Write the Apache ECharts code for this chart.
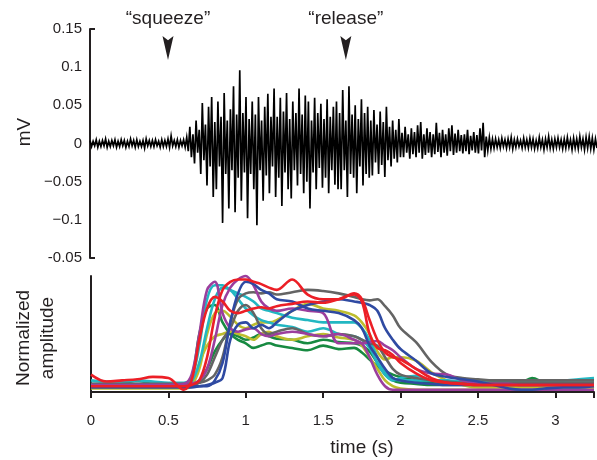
<!DOCTYPE html>
<html><head><meta charset="utf-8">
<script src="https://cdn.jsdelivr.net/npm/echarts/dist/echarts.min.js"></script>
<style>html,body{margin:0;padding:0;background:#fff}#c{width:597px;height:460px}</style>
</head><body><div id="c"></div>
<script>
// ---------- EMG trace (top panel), per 0.02 s bin: upper and lower excursion in microvolts ----------
const emgBin = 0.02;
const emgHighUv = [
  4,3,5,3,4,6,3,4,5,3,
  5,4,3,6,4,5,3,4,6,4,
  4,5,3,5,4,6,10,4,5,4,
  5,8,22,12,30,18,53,25,48,61,
  28,55,35,66,30,45,75,38,96,40,
  61,32,55,38,61,30,48,65,35,72,
  35,60,42,66,32,55,40,72,38,63,
  55,30,60,40,52,32,58,35,48,55,
  40,70,30,75,38,50,32,58,40,48,
  30,44,25,42,28,48,22,30,18,32,
  14,22,12,20,15,24,28,12,20,15,
  12,27,14,18,12,20,24,13,18,11,
  12,18,10,15,11,20,27,9,8,6,
  6,5,7,5,6,8,5,6,4,7,
  5,7,6,4,8,5,6,9,5,6,
  7,5,6,8,5,7,6,9,6,8,
  9,7,6
];
const emgLowUv = [
  -4,-3,-5,-4,-3,-5,-4,-3,-5,-4,
  -3,-5,-4,-3,-5,-4,-4,-6,-3,-4,
  -4,-3,-5,-4,-4,-5,-3,-4,-5,-3,
  -5,-10,-18,-26,-12,-40,-22,-55,-30,-70,
  -60,-30,-104,-40,-85,-35,-90,-45,-75,-38,
  -98,-40,-60,-107,-35,-75,-42,-65,-30,-70,
  -45,-82,-38,-60,-72,-35,-55,-40,-65,-50,
  -85,-38,-60,-32,-58,-45,-65,-35,-54,-60,
  -60,-35,-70,-40,-45,-65,-30,-55,-40,-45,
  -42,-25,-40,-28,-44,-22,-30,-20,-25,-18,
  -18,-12,-20,-14,-18,-12,-20,-15,-12,-18,
  -14,-11,-18,-12,-16,-10,-15,-12,-10,-13,
  -10,-14,-9,-12,-13,-9,-18,-9,-7,-6,
  -5,-6,-4,-6,-5,-7,-5,-4,-6,-5,
  -6,-5,-7,-6,-5,-8,-5,-6,-7,-5,
  -5,-7,-6,-5,-8,-6,-7,-5,-8,-6,
  -7,-8,-6
];
const emgTickLabels = ['-0.05','\u22120.1','\u22120.05','0','0.05','0.1','0.15'];
const annotTimes = [0.5, 1.64];
const annotLevel = 0.125;
const annotLabels = ['\u201csqueeze\u201d','\u201crelease\u201d'];

// ---------- Normalized amplitude envelopes (bottom panel) ----------
const timeTickLabels = ['0','0.5','1','1.5','2','2.5','3'];
const envTimes = [0,0.1,0.2,0.3,0.4,0.5,0.6, 0.65,0.7,0.75,0.8,0.85,0.9,0.95, 1.0,1.05,1.1,1.15,1.2,1.3,1.4,
  1.5,1.6,1.7,1.75,1.8,1.85,1.9, 1.95,2.0,2.1,2.2,2.3,2.4,2.5, 2.6,2.7,2.78,2.85,2.93,3.05,3.15,3.25];
const envGreen1 = [.05,.06,.07,.1,.07,.07,.07, .12,.5,.72,.75,.6,.5,.45, .42,.38,.4,.42,.4,.38,.36,
  .4,.37,.38,.34,.28,.22,.18, .15,.13,.1,.08,.07,.07,.07, .07,.07,.08,.12,.08,.06,.06,.06];
const envGreen2 = [.05,.05,.05,.05,.05,.05,.05, .06,.1,.2,.35,.45,.5,.48, .45,.47,.5,.48,.46,.45,.42,
  .45,.43,.42,.4,.35,.25,.15, .1,.08,.07,.06,.06,.06,.06, .06,.06,.06,.06,.06,.06,.06,.06];
const envYellow1 = [.04,.04,.04,.04,.04,.04,.04, .06,.2,.5,.68,.7,.65,.58, .55,.58,.6,.6,.62,.7,.76,
  .72,.7,.66,.6,.5,.35,.28, .3,.3,.27,.17,.1,.06,.04, .04,.04,.04,.04,.04,.04,.04,.04];
const envYellow2 = [.03,.03,.03,.03,.03,.03,.03, .05,.25,.4,.48,.5,.52,.5, .48,.45,.5,.52,.48,.45,.48,
  .5,.47,.45,.4,.3,.2,.1, .05,.03,.02,.02,.02,.02,.02, .02,.02,.02,.02,.02,.02,.02,.02];
const envCyan1 = [.1,.09,.09,.1,.09,.08,.08, .12,.4,.8,.92,.92,.88,.85, .82,.78,.72,.7,.68,.64,.62,
  .6,.6,.6,.55,.45,.3,.18, .12,.1,.1,.1,.1,.09,.1, .09,.09,.09,.1,.1,.1,.11,.12];
const envCyan2 = [.07,.07,.07,.07,.07,.07,.07, .09,.25,.55,.8,.9,.88,.8, .72,.66,.62,.6,.58,.56,.52,
  .55,.5,.48,.45,.38,.25,.15, .1,.12,.14,.1,.09,.09,.09, .09,.1,.1,.1,.1,.1,.1,.1];
const envGray1 = [.07,.07,.07,.07,.07,.07,.07, .07,.08,.1,.15,.3,.6,.8, .85,.86,.85,.86,.84,.86,.88,
  .87,.85,.82,.8,.79,.8,.74, .66,.55,.43,.26,.15,.12,.11, .1,.1,.1,.1,.1,.1,.1,.1];
const envGray2 = [.06,.06,.06,.06,.06,.06,.06, .06,.08,.15,.3,.45,.55,.7, .75,.68,.55,.5,.52,.55,.5,
  .48,.5,.48,.45,.42,.4,.3, .2,.15,.12,.1,.09,.08,.08, .08,.08,.08,.08,.08,.08,.08,.08];
const envPurple1 = [.05,.05,.05,.06,.06,.06,.07, .15,.5,.88,.95,.68,.55,.52, .54,.55,.5,.48,.5,.52,.5,
  .48,.5,.45,.42,.3,.15,.05, .02,.02,.02,.02,.02,.02,.02, .02,.02,.02,.02,.02,.02,.02,.02];
const envPurple2 = [.06,.06,.06,.06,.06,.06,.06, .07,.1,.2,.45,.75,.9,.97, 1.0,.92,.78,.72,.7,.72,.7,
  .68,.42,.42,.42,.43,.44,.4, .36,.3,.2,.16,.15,.1,.08, .07,.07,.06,.06,.06,.06,.06,.06];
const envBlue1 = [.04,.04,.04,.04,.04,.04,.04, .04,.05,.06,.08,.12,.45,.58, .6,.55,.58,.55,.6,.7,.75,
  .78,.8,.78,.77,.75,.7,.55, .45,.37,.27,.16,.13,.11,.09, .06,.03,.02,.02,.03,.04,.04,.05];
const envBlue2 = [.05,.05,.05,.05,.05,.05,.05, .05,.05,.05,.1,.25,.6,.85, .95,.93,.88,.85,.8,.78,.72,
  .7,.68,.62,.55,.4,.3,.2, .12,.1,.08,.07,.06,.06,.06, .06,.06,.06,.06,.06,.06,.06,.06];
const envRed1 = [.05,.05,.05,.05,.05,.05,.05, .06,.1,.3,.65,.88,.95,.97, .97,.95,.93,.9,.88,.97,.84,
  .8,.8,.85,.8,.62,.45,.34, .3,.28,.2,.12,.08,.07,.06, .06,.06,.06,.06,.06,.06,.06,.06];
const envRed2 = [.15,.09,.1,.11,.13,.12,.02, .1,.45,.72,.82,.78,.7,.68, .7,.72,.73,.72,.74,.76,.78,
  .77,.8,.84,.78,.5,.38,.36, .32,.25,.16,.1,.08,.07,.06, .06,.06,.06,.06,.06,.06,.06,.06];

const envSeries = [
  [envGreen1,'#178a41'],[envGreen2,'#178a41'],[envYellow1,'#bdbd2e'],[envYellow2,'#bdbd2e'],
  [envCyan1,'#22b7c2'],[envCyan2,'#22b7c2'],[envGray1,'#646464'],[envGray2,'#646464'],
  [envPurple1,'#9b3e9d'],[envPurple2,'#9b3e9d'],[envBlue1,'#2f4aa2'],[envBlue2,'#2f4aa2'],
  [envRed1,'#ec1f26'],[envRed2,'#ec1f26']
];

const ink = '#231f20';
const font = 'Liberation Sans, Arial, Helvetica, sans-serif';

const emgData = [];
for (let i = 0; i < emgHighUv.length; i++) {
  emgData.push([i * emgBin, emgHighUv[i] / 1000]);
  emgData.push([i * emgBin + emgBin / 2, emgLowUv[i] / 1000]);
}

const chart = echarts.init(document.getElementById('c'), null, {renderer: 'canvas'});
const series = [{
  type: 'line', xAxisIndex: 0, yAxisIndex: 0, data: emgData, symbol: 'none',
  lineStyle: {color: '#000', width: 1.7, join: 'miter'}, animation: false, z: 2
}, {
  type: 'scatter', xAxisIndex: 0, yAxisIndex: 0,
  data: annotTimes.map((t, i) => ({value: [t, annotLevel], name: annotLabels[i]})),
  symbol: 'path://M0,0 L10,7 L20,0 L10,40 Z', symbolSize: [11, 24],
  itemStyle: {color: ink, opacity: 1},
  label: {show: true, position: 'top', distance: 8, formatter: p => p.name,
    color: ink, fontSize: 19, fontFamily: font, opacity: 1},
  animation: false, z: 5
}];
envSeries.forEach(([vals, color]) => {
  series.push({
    type: 'line', xAxisIndex: 1, yAxisIndex: 2,
    data: envTimes.map((t, i) => [t, vals[i]]),
    symbol: 'none', smooth: 0.35, clip: false,
    lineStyle: {color, width: 2.6}, animation: false
  });
});

chart.setOption({
  backgroundColor: '#fff',
  animation: false,
  grid: [
    {left: 90, right: -3, top: 29, height: 229},
    {left: 91, right: -3, top: 276, height: 116}
  ],
  xAxis: [
    {gridIndex: 0, type: 'value', min: 0, max: 3.25, show: false},
    {gridIndex: 1, type: 'value', min: 0, max: 3.25, interval: 0.5, offset: 12,
     axisLine: {show: true, lineStyle: {color: ink, width: 2}},
     axisTick: {show: true, length: 6, lineStyle: {color: ink, width: 2}},
     axisLabel: {color: ink, fontSize: 15, fontFamily: font, margin: 9,
       formatter: v => { const k = Math.round(v / 0.5); return Math.abs(v - k * 0.5) < 1e-6 ? (timeTickLabels[k] || '') : ''; }},
     splitLine: {show: false}}
  ],
  yAxis: [
    {gridIndex: 0, type: 'value', min: -0.15, max: 0.15, interval: 0.05, position: 'left',
     axisLine: {show: true, lineStyle: {color: ink, width: 2}},
     axisTick: {show: false},
     axisLabel: {color: ink, fontSize: 15, fontFamily: font, margin: 8,
       formatter: v => emgTickLabels[Math.round((v + 0.15) / 0.05)] || ''},
     splitLine: {show: false}},
    {gridIndex: 0, type: 'value', min: -0.15, max: 0.15, interval: 0.3, position: 'left', offset: 0,
     axisLine: {show: false},
     axisTick: {show: true, inside: true, length: 5, lineStyle: {color: ink, width: 2}},
     axisLabel: {show: false}, splitLine: {show: false}},
    {gridIndex: 1, type: 'value', min: 0, max: 1, position: 'left',
     axisLine: {show: true, lineStyle: {color: ink, width: 2}},
     axisTick: {show: false}, axisLabel: {show: false}, splitLine: {show: false}}
  ],
  graphic: [
    {type: 'text', x: 25, y: 132, rotation: Math.PI / 2,
     style: {text: 'mV', fill: ink, fontSize: 19, fontFamily: font, align: 'center', verticalAlign: 'middle'}},
    {type: 'text', x: 36, y: 338, rotation: Math.PI / 2,
     style: {text: 'Normalized\namplitude', fill: ink, fontSize: 19, lineHeight: 24, fontFamily: font, align: 'center', verticalAlign: 'middle'}},
    {type: 'text', x: 362, y: 448,
     style: {text: 'time (s)', fill: ink, fontSize: 19, fontFamily: font, align: 'center', verticalAlign: 'middle'}}
  ],
  series
});
</script>
</body></html>
